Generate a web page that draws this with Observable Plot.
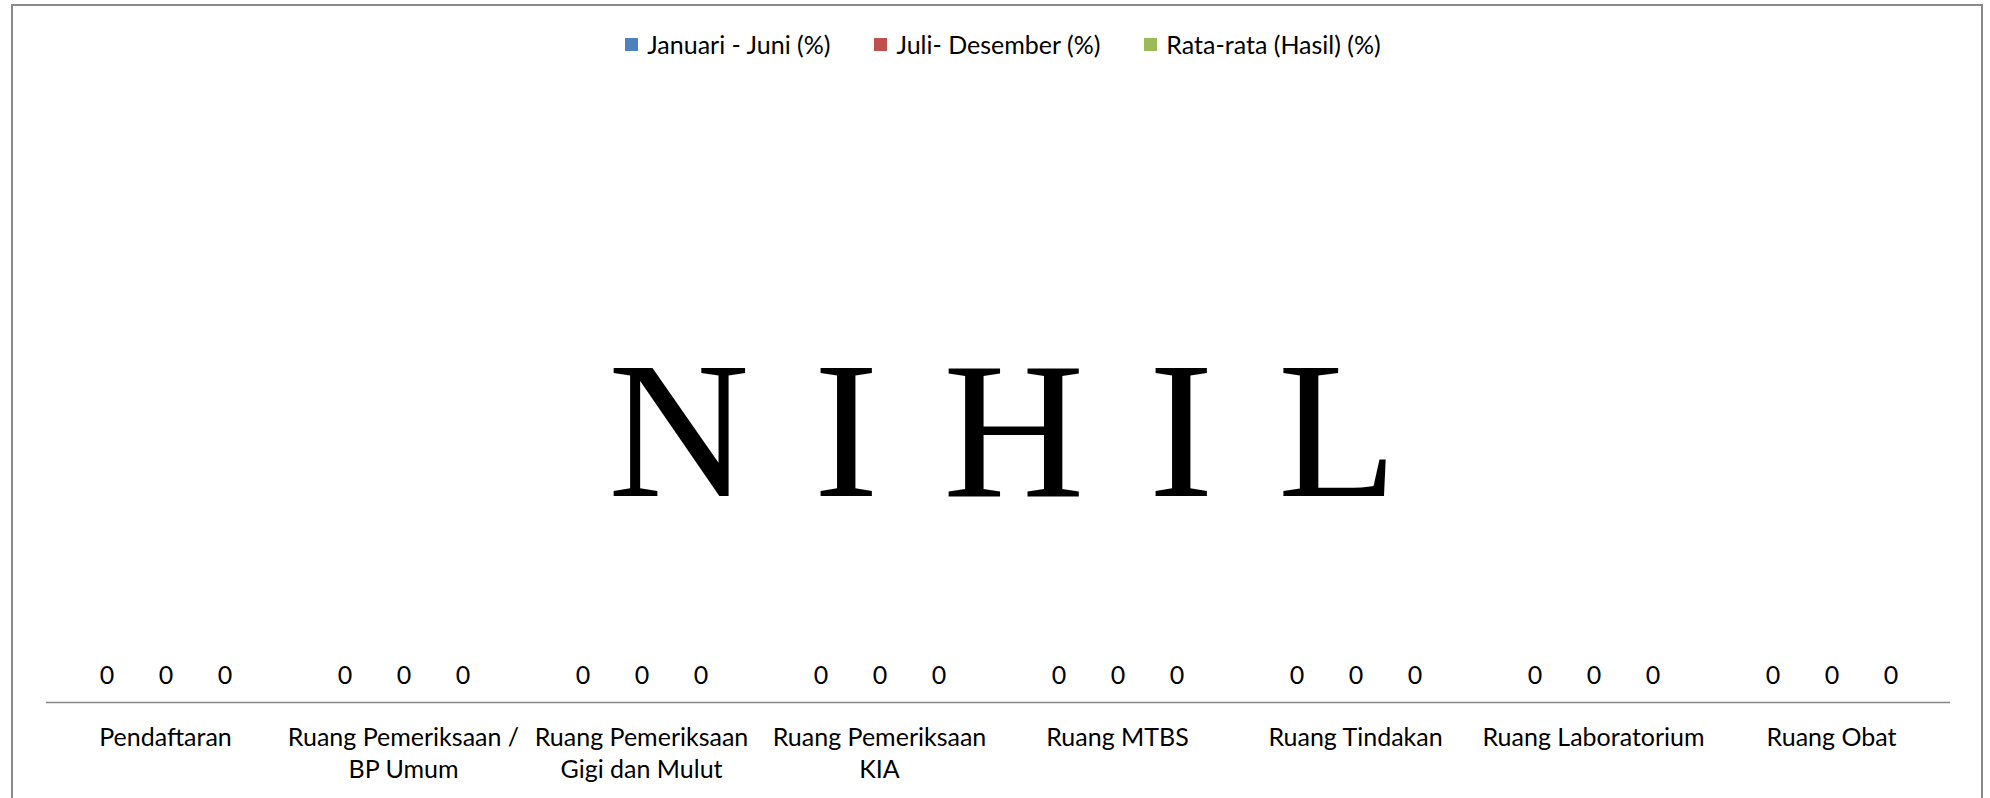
<!DOCTYPE html>
<html>
<head>
<meta charset="utf-8">
<script src="https://cdn.jsdelivr.net/npm/d3@7"></script>
<script src="https://cdn.jsdelivr.net/npm/@observablehq/plot@0.6"></script>
<style>
  html, body { margin: 0; padding: 0; background: #fff; width: 1990px; height: 798px; overflow: hidden; font-family: Lato, "Open Sans", sans-serif; }
  #frame { position: absolute; left: 11px; top: 4px; width: 1972px; height: 1000px; border: 2px solid #8a8a8a; box-sizing: border-box; }
  #legend { position: absolute; left: 8px; top: 0; width: 1990px; height: 88px; display: flex; justify-content: center; align-items: center; font-size: 25px; color: #000; }
  .item { display: flex; align-items: center; margin: 0 22px; }
  .sw { width: 13px; height: 13px; margin-right: 9px; }
  #chart { position: absolute; left: 0; top: 88px; }
  g[font-family="Liberation Serif"] text, text[font-family="Liberation Serif"] { letter-spacing: 7.5px; }
</style>
</head>
<body>
<div id="frame"></div>
<div id="legend"></div>
<div id="chart"></div>
<script>
const categories = ["Pendaftaran", "Ruang Pemeriksaan / BP Umum", "Ruang Pemeriksaan Gigi dan Mulut", "Ruang Pemeriksaan KIA", "Ruang MTBS", "Ruang Tindakan", "Ruang Laboratorium", "Ruang Obat"];
const tickLabels = ["Pendaftaran", "Ruang Pemeriksaan /\nBP Umum", "Ruang Pemeriksaan\nGigi dan Mulut", "Ruang Pemeriksaan\nKIA", "Ruang MTBS", "Ruang Tindakan", "Ruang Laboratorium", "Ruang Obat"];
const seriesNames = ["Januari - Juni (%)", "Juli- Desember (%)", "Rata-rata (Hasil) (%)"];
const janJun = [0, 0, 0, 0, 0, 0, 0, 0];
const julDes = [0, 0, 0, 0, 0, 0, 0, 0];
const rataRata = [0, 0, 0, 0, 0, 0, 0, 0];
const colors = ["#4F81BD", "#C0504D", "#9BBB59"];
const overlayText = ["N I H I L"];

const seriesValues = [janJun, julDes, rataRata];
const rows = [];
categories.forEach((c, i) => {
  seriesNames.forEach((s, j) => rows.push({category: c, series: s, value: seriesValues[j][i]}));
});

// legend
const legend = document.getElementById("legend");
seriesNames.forEach((s, j) => {
  const it = document.createElement("div");
  it.className = "item";
  const sw = document.createElement("div");
  sw.className = "sw";
  sw.style.background = colors[j];
  const t = document.createElement("span");
  t.textContent = s;
  it.appendChild(sw); it.appendChild(t);
  legend.appendChild(it);
});

const chart = Plot.plot({
  width: 1990,
  height: 710,
  marginLeft: 43,
  marginRight: 37,
  marginTop: 76,
  marginBottom: 96,
  style: {fontFamily: "Lato, sans-serif", fontSize: "25px", color: "#000", background: "transparent"},
  fx: {domain: categories, padding: 0},
  x: {domain: seriesNames, paddingInner: 0, paddingOuter: 0.5, axis: null},
  y: {domain: [0, 1], axis: null},
  color: {domain: seriesNames, range: colors},
  marks: [
    Plot.barY(rows, {fx: "category", x: "series", y: "value", fill: "series"}),
    Plot.ruleY([0], {stroke: "#868686", strokeWidth: 1.6}),
    Plot.text(rows, {fx: "category", x: "series", y: "value", text: d => String(d.value), dy: -27, fontSize: 25, fill: "#000"}),
    Plot.axisFx({anchor: "bottom", tickSize: 0, tickPadding: 21, fontSize: 25, lineHeight: 1.28, label: null, fill: "#000",
      tickFormat: c => tickLabels[categories.indexOf(c)]}),
    Plot.text(overlayText, {frameAnchor: "middle", facet: "super", dx: 8, fontSize: 196, fontFamily: "Liberation Serif", fill: "#000", text: d => d})
  ]
});
document.getElementById("chart").appendChild(chart);
</script>
</body>
</html>
